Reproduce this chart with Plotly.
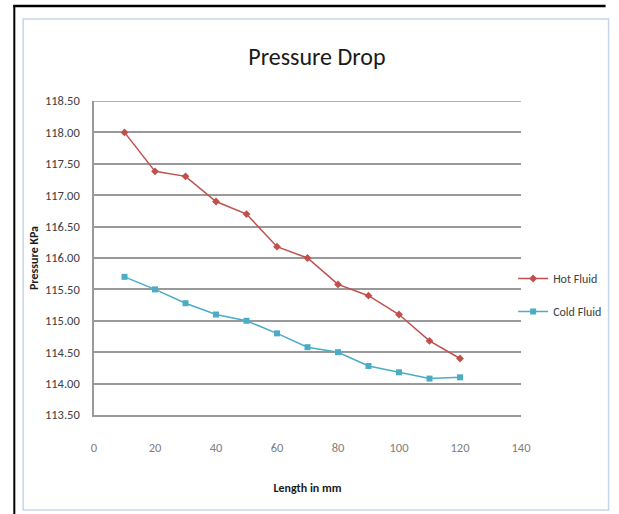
import plotly.graph_objects as go

length_mm = [10, 20, 30, 40, 50, 60, 70, 80, 90, 100, 110, 120]
hot_fluid = [118.0, 117.38, 117.3, 116.9, 116.7, 116.18, 116.0, 115.58, 115.4, 115.1, 114.68, 114.4]
cold_fluid = [115.7, 115.5, 115.28, 115.1, 115.0, 114.8, 114.58, 114.5, 114.28, 114.18, 114.08, 114.1]
y_ticks = [113.5, 114.0, 114.5, 115.0, 115.5, 116.0, 116.5, 117.0, 117.5, 118.0, 118.5]
x_ticks = [0, 20, 40, 60, 80, 100, 120, 140]

W, H = 619, 514
L, R, T, B = 94, 528, 101, 415  # plot area pixels

def px(x):
    return (x - L) / (R - L)

def py(y):
    return (B - y) / (B - T)

FONT = "Carlito, Calibri, Lato, sans-serif"
HOT = "#C0504D"
COLD = "#4BACC6"
GRID = "#999999"

fig = go.Figure()
fig.add_trace(go.Scatter(
    x=length_mm, y=hot_fluid, name="Hot Fluid", mode="lines+markers",
    line=dict(color=HOT, width=1.5),
    marker=dict(symbol="diamond", size=6, color=HOT),
    legendgroup="a",
))
fig.add_trace(go.Scatter(
    x=length_mm, y=cold_fluid, name="Cold Fluid", mode="lines+markers",
    line=dict(color=COLD, width=1.5),
    marker=dict(symbol="square", size=6, color=COLD),
    legendgroup="b",
))

shapes = [
    # chart area border
    dict(type="rect", xref="paper", yref="paper",
         x0=px(22), x1=px(617), y0=py(510), y1=py(19),
         line=dict(color="#C6D6EA", width=1.5), fillcolor="rgba(0,0,0,0)", layer="below"),
    # outer black frame lines
    dict(type="line", xref="paper", yref="paper",
         x0=px(12), x1=px(614), y0=py(6), y1=py(6),
         line=dict(color="black", width=2.5)),
    dict(type="line", xref="paper", yref="paper",
         x0=px(13), x1=px(13), y0=py(5), y1=py(520),
         line=dict(color="black", width=2)),
]

fig.update_layout(
    width=W, height=H,
    margin=dict(l=L, r=W - R, t=T, b=H - B),
    paper_bgcolor="white", plot_bgcolor="white",
    font=dict(family=FONT, color="#404040", size=12),
    title=dict(text="Pressure Drop", x=0.522, xref="paper", xanchor="center",
               y=1 - 57 / H, yanchor="middle",
               font=dict(size=24, color="#1a1a1a", family=FONT)),
    showlegend=True,
    legend=dict(x=px(520), xanchor="left", y=py(264), yanchor="top",
                bgcolor="rgba(0,0,0,0)", tracegroupgap=14,
                font=dict(size=12, color="#404040", family=FONT),
                itemwidth=30),
    shapes=shapes,
    xaxis=dict(range=[0, 140], tickvals=x_ticks, ticktext=[str(v) for v in x_ticks],
               showgrid=False, zeroline=False, showline=True, linecolor=GRID,
               linewidth=1.5, ticks="", ticklabelstandoff=20,
               tickfont=dict(size=12.5, color="#808080", family=FONT),
               title=dict(text="<b>Length in mm</b>", standoff=30,
                          font=dict(size=12, color="#1a1a1a", family=FONT))),
    yaxis=dict(range=[113.5, 118.5], tickvals=y_ticks,
               ticktext=[f"{v:.2f}" for v in y_ticks],
               showgrid=True, gridcolor=GRID, gridwidth=1.5,
               zeroline=False, showline=True, linecolor=GRID, linewidth=1.5,
               ticks="", ticklabelstandoff=10,
               tickfont=dict(size=12.5, color="#404040", family=FONT),
               title=dict(text="<b>Pressure KPa</b>", standoff=4,
                          font=dict(size=12, color="#1a1a1a", family=FONT))),
)
# top border of plot area (gridline at 118.5)
fig.add_hline(y=118.5, line=dict(color=GRID, width=1.5), layer="below")

fig.write_html("out.html")
